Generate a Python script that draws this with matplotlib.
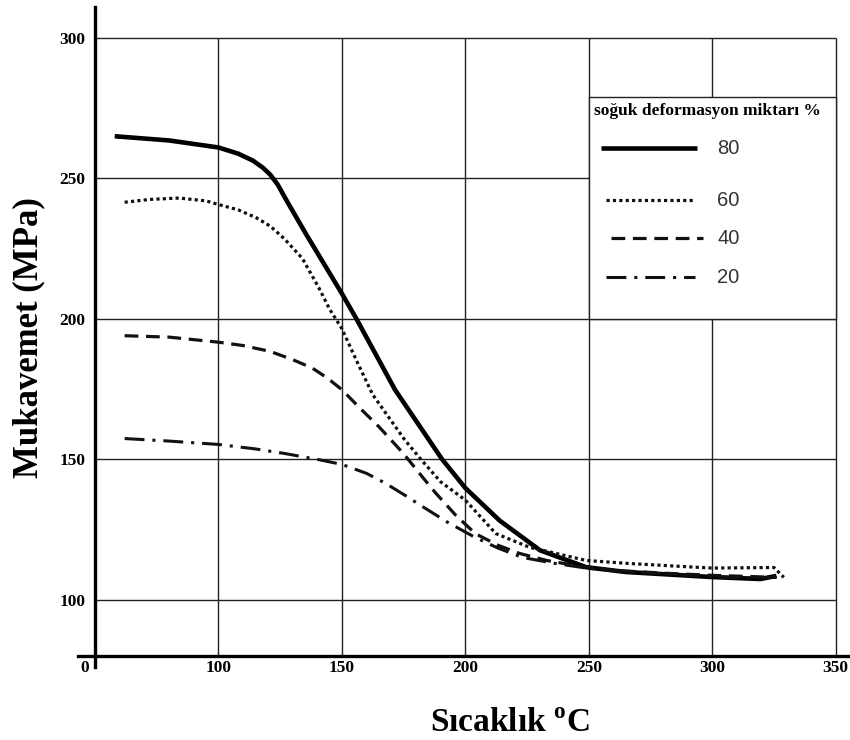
import matplotlib
matplotlib.use("Agg")
import matplotlib.pyplot as plt
from matplotlib.patches import Rectangle
from matplotlib.lines import Line2D

# === Yazi tipleri ===
plt.rcParams['font.family'] = ['Liberation Serif', 'DejaVu Serif']
plt.rcParams['font.weight'] = 'bold'
plt.rcParams['mathtext.fontset'] = 'custom'
plt.rcParams['mathtext.rm'] = 'Liberation Serif:bold'
plt.rcParams['mathtext.bf'] = 'Liberation Serif:bold'

# === Veriler ===
sicaklik_80 = [58, 80, 100, 108, 114, 118, 121, 124, 128, 135.6, 150, 155.9, 171.5,
               190.6, 200, 213.9, 230.3, 249, 265, 300, 319.5, 326]
mukavemet_80 = [265, 263.5, 261, 258.8, 256.3, 253.8, 251.3, 247.8, 241.5, 230, 209,
                200, 174.8, 150, 139.8, 128.2, 117.6, 111.6, 109.9, 108.1, 107.4, 108.5]

sicaklik_60 = [62, 72, 84, 95, 100, 108, 115.3, 121, 126.7, 134, 140.7, 145, 150,
               156, 162.5, 175.4, 182, 190, 200, 212.3, 226, 249, 265, 285, 300,
               325, 329]
mukavemet_60 = [241.5, 242.5, 243, 242, 240.7, 238.8, 236, 233, 228.5, 221.5, 211,
                203.5, 196.5, 185, 173, 157, 150, 142, 135.5, 123.6, 118.7, 114, 113,
                112, 111.3, 111.5, 108]

sicaklik_40 = [62, 80, 100, 110, 121, 130, 138, 144, 150, 157, 165, 175, 183, 188,
               196, 204, 213, 222, 233, 244, 260, 280, 300, 326]
mukavemet_40 = [194, 193.5, 191.7, 190.5, 188.4, 185.5, 182.5, 179, 174.8, 168.5,
                161.6, 152, 143.3, 138, 130.2, 123.6, 119.5, 116.5, 114, 112.3,
                110.5, 109.5, 108.7, 108]

sicaklik_20 = [62, 80, 100, 115, 126.7, 140, 150, 160, 167.6, 175, 183, 193, 204,
               213, 223, 236, 249, 265, 285, 300, 315, 326]
mukavemet_20 = [157.4, 156.5, 155.3, 153.7, 152.1, 150, 148.2, 145, 141.5, 137.5, 133,
                127.5, 122.2, 118.5, 115.1, 113, 111.3, 110, 109, 108.2, 107.8, 108]

x_ticks = [50, 100, 150, 200, 250, 300, 350]
x_labels = ['', '100', '150', '200', '250', '300', '350']
y_ticks = [100, 150, 200, 250, 300]
legend_labels = ['80', '60', '40', '20']

# === Cizgi stilleri ===
stil = {
    '80': dict(color='black', lw=3.3, linestyle='-'),
    '60': dict(color='#111111', lw=2.3, linestyle=(0, (1, 1))),
    '40': dict(color='#111111', lw=2.3, linestyle=(0, (4.3, 2.4))),
    '20': dict(color='#111111', lw=2.2, linestyle=(0, (6.5, 2.6, 1, 2.6))),
}

fig = plt.figure(figsize=(8.5, 7.4), dpi=100)
ax = fig.add_axes([95 / 850, 84 / 740, 753 / 850, 649 / 740])
ax.set_xlim(50, 355)
ax.set_ylim(80, 311)

# izgara (sadece 300 ve 350'ye kadar)
ax.vlines(x_ticks[1:], 80, 300, color='#222222', lw=1.0, zorder=1)
ax.hlines(y_ticks, 50, 350, color='#222222', lw=1.0, zorder=1)

for sic, muk, lab in [(sicaklik_80, mukavemet_80, '80'),
                      (sicaklik_60, mukavemet_60, '60'),
                      (sicaklik_40, mukavemet_40, '40'),
                      (sicaklik_20, mukavemet_20, '20')]:
    ax.plot(sic, muk, zorder=3, solid_capstyle='butt', dash_capstyle='butt',
            solid_joinstyle='round', **stil[lab])

# eksenler
for s in ['top', 'right']:
    ax.spines[s].set_visible(False)
ax.spines['left'].set_linewidth(2.4)
ax.spines['bottom'].set_linewidth(2.4)
ax.spines['left'].set_bounds(76, 311)
ax.spines['bottom'].set_bounds(43, 355)
ax.tick_params(length=0)
ax.set_xticks(x_ticks)
ax.set_xticklabels(x_labels, fontsize=12.5, fontweight='bold')
ax.set_yticks(y_ticks)
ax.set_yticklabels([str(v) for v in y_ticks], fontsize=12.5, fontweight='bold')
ax.tick_params(axis='x', pad=3)
ax.tick_params(axis='y', pad=7)
# baslangictaki "0" etiketi eksenin solunda
ax.annotate('0', xy=(50, 80), xytext=(-4, -3), textcoords='offset points',
            ha='right', va='top', fontsize=12.5, fontweight='bold',
            annotation_clip=False)

# === Lejant kutusu (elle) ===
ax.add_patch(Rectangle((250, 200), 100, 79, facecolor='white', edgecolor='#222222',
                       lw=1.0, zorder=4))


def px(x, y):
    return x / 850, 1 - y / 740


fig.text(*px(707, 111), 'soğuk deformasyon miktarı %', ha='center', va='center',
         fontsize=12.5, fontweight='bold', zorder=6)
legend_rows = [(601, 697, 148), (606, 695, 200), (611, 703, 238), (606, 695, 277)]
for lab, (x0, x1, yy) in zip(legend_labels, legend_rows):
    a = px(x0, yy)
    b = px(x1, yy)
    fig.add_artist(Line2D([a[0], b[0]], [a[1], b[1]], transform=fig.transFigure,
                          zorder=6, solid_capstyle='butt', dash_capstyle='butt',
                          **stil[lab]))
    fig.text(*px(717, yy), lab, ha='left', va='center', fontsize=14.5,
             family=['Liberation Sans', 'DejaVu Sans'], fontweight='normal',
             color='#333333', zorder=6)

# eksen basliklari
fig.text(*px(29, 338), 'Mukavemet (MPa)', rotation=90, ha='center', va='center',
         fontsize=25, fontweight='bold')
fig.text(*px(510, 723), 'Sıcaklık $^{\\mathrm{o}}$C', ha='center', va='center',
         fontsize=24, fontweight='bold')

fig.savefig('out.png', dpi=100)
